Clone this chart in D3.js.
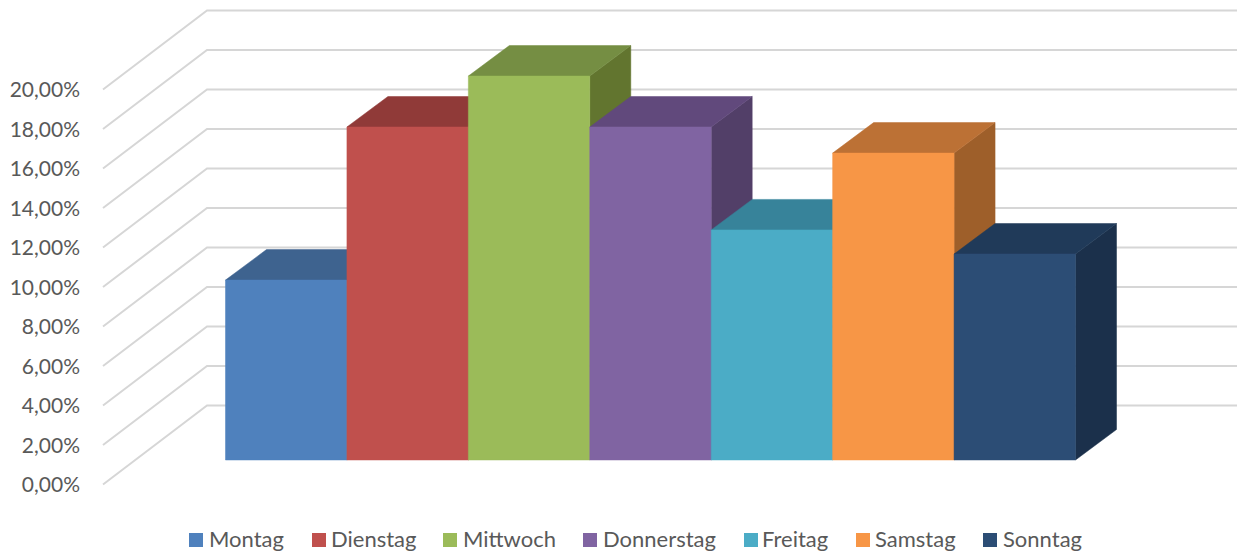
<!DOCTYPE html>
<html><head><meta charset="utf-8">
<script src="https://cdnjs.cloudflare.com/ajax/libs/d3/7.9.0/d3.min.js"></script>
<style>html,body{margin:0;padding:0;background:#fff;overflow:hidden}svg{display:block}text{font-family:Lato,"Open Sans",sans-serif;fill:#595959}</style>
</head><body><svg id="c" width="1237" height="554"></svg>
<script>
const categories = ["Montag","Dienstag","Mittwoch","Donnerstag","Freitag","Samstag","Sonntag"];
const values = [9.11,16.86,19.44,16.86,11.65,15.54,10.43];
const tickValues = [0,2,4,6,8,10,12,14,16,18,20];
const tickLabels = ["0,00%","2,00%","4,00%","6,00%","8,00%","10,00%","12,00%","14,00%","16,00%","18,00%","20,00%"];
const frontColors = ["#4F81BD","#C0504D","#9BBB59","#8064A2","#4BACC6","#F79646","#2C4D75"];
const topColors = ["#3E638F","#903A38","#758E43","#61497C","#37839A","#BC7135","#203A59"];
const sideColors = ["#33527A","#7A302E","#62752F","#523F68","#2D6D80","#9E5F2A","#1B304B"];
const legendSquareX = [189,312,443,583,744,856,983];
const legendTextX = [209,331,463,603,762,875,1003];

const svg = d3.select("#c");
const y = d3.scaleLinear().domain([0,20]).range([484.5,89.5]);
const x = d3.scaleBand().domain(categories).range([225.5,1075.5]).padding(0);
const wall = {dx:104, dy:-79, right:1237, left:103};
const front = {dx:30.5, dy:-24.5};
const depth = {dx:41, dy:-30.5};
const line = d3.line();

svg.append("g").selectAll("path").data(tickValues).join("path")
  .attr("d", d => line([[wall.left,y(d)],[wall.left+wall.dx,y(d)+wall.dy],[wall.right,y(d)+wall.dy]]))
  .attr("fill","none").attr("stroke","#D6D6D6").attr("stroke-width",2);

svg.append("g").selectAll("text").data(tickValues).join("text")
  .attr("x",80).attr("y",d=>y(d)+7.5).attr("text-anchor","end").attr("font-size",21)
  .text((d,i)=>tickLabels[i]);

const base = y(0)+front.dy;
const h = v => y(v)+front.dy;
const bars = svg.append("g").selectAll("g").data(categories).join("g");
const poly = (g,pts,c) => g.append("path").attr("d",line(pts)+"Z").attr("fill",c).attr("stroke",c).attr("stroke-width",0.5);
bars.each(function(c,i){
  const g = d3.select(this);
  const x0 = x(c), x1 = x0+x.bandwidth(), t = h(values[i]);
  poly(g,[[x1,t],[x1+depth.dx,t+depth.dy],[x1+depth.dx,base+depth.dy],[x1,base]],sideColors[i]);
  poly(g,[[x0,t],[x0+depth.dx,t+depth.dy],[x1+depth.dx,t+depth.dy],[x1,t]],topColors[i]);
  poly(g,[[x0,t],[x1,t],[x1,base],[x0,base]],frontColors[i]);
});

const legend = svg.append("g").selectAll("g").data(categories).join("g");
legend.append("rect").attr("x",(d,i)=>legendSquareX[i]).attr("y",533).attr("width",14).attr("height",14)
  .attr("fill",(d,i)=>frontColors[i]);
legend.append("text").attr("x",(d,i)=>legendTextX[i]).attr("y",547).attr("font-size",22).text(d=>d);
</script></body></html>
